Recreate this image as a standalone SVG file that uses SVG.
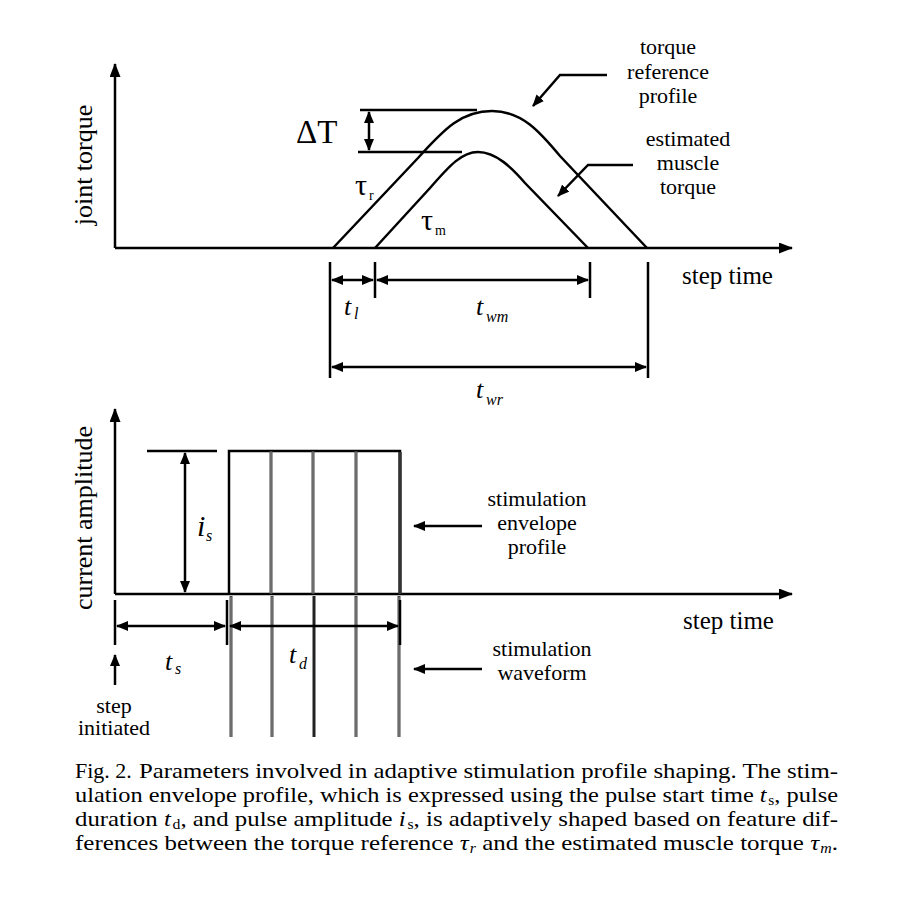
<svg xmlns="http://www.w3.org/2000/svg" width="910" height="904" viewBox="0 0 910 904">
<defs>
<marker id="ah" viewBox="0 0 12 10" refX="11" refY="5" markerWidth="12" markerHeight="10" markerUnits="userSpaceOnUse" orient="auto-start-reverse">
<path d="M0,0 L12,5 L0,10 z" fill="#000"/>
</marker>
<marker id="axh" viewBox="0 0 14 11" refX="13" refY="5.5" markerWidth="14" markerHeight="11" markerUnits="userSpaceOnUse" orient="auto">
<path d="M0,0 L14,5.5 L0,11 z" fill="#000"/>
</marker>
<style>
.ln{stroke:#000;stroke-width:2.5;fill:none}
.ar{stroke:#000;stroke-width:2.5;fill:none;marker-end:url(#ah)}
.dar{stroke:#000;stroke-width:2.5;fill:none;marker-end:url(#ah);marker-start:url(#ah)}
.ax{stroke:#000;stroke-width:2.5;fill:none;marker-end:url(#axh)}
.t{font-family:"Liberation Serif","Times New Roman",serif;fill:#000}
.lbl{font-size:22px;text-anchor:middle}
.st{font-size:25px}
.yl{font-size:26px;text-anchor:middle}
.it{font-style:italic}
.mt{font-size:26px;font-style:italic}
.sb{font-size:16px;font-style:italic}
.pulse{stroke:#444;stroke-width:3;fill:none}
.pin{stroke:#aaa;stroke-width:0.8;fill:none}
.cap{font-size:22px}
</style>
</defs>

<g id="top-chart">
<g id="top-axes">
<path class="ax" d="M115,248 V64"/>
<path class="ax" d="M115,248 H792"/>
<text class="t yl" transform="translate(92,165) rotate(-90)">joint torque</text>
<text class="t st" x="682" y="284">step time</text>
</g>
<g id="tau-r">
<path class="ln" d="M333,248 L418,158 C445,128 462,111 492,111 C522,111 540,132 560,156 L647,248"/>
<text class="t" font-size="30" x="355" y="195">τ</text><text class="t" font-size="14" x="369" y="200">r</text>
</g>
<g id="tau-m">
<path class="ln" d="M375,248 L430,188 C450,165 462,152 478,152 C496,152 512,168 525,183 L588,248"/>
<text class="t" font-size="30" x="421" y="230">τ</text><text class="t" font-size="14" x="435" y="235">m</text>
</g>
<g id="delta-t">
<path class="ln" d="M360,110 H477"/>
<path class="ln" d="M358,152 H462"/>
<text class="t" font-size="33" x="296" y="143">ΔT</text>
</g>
<g id="label-torque-ref">
<text class="t lbl" x="668" y="54">torque</text>
<text class="t lbl" x="668" y="79">reference</text>
<text class="t lbl" x="668" y="103">profile</text>
</g>
<g id="label-est-muscle">
<text class="t lbl" x="688" y="146">estimated</text>
<text class="t lbl" x="688" y="170">muscle</text>
<text class="t lbl" x="688" y="194">torque</text>
</g>
<g id="top-ticks">
<path class="ln" d="M330,262 V378 M375,262 V298 M590,262 V298 M648,262 V378"/>
<text class="t mt" x="344" y="315">t</text><text class="t sb" x="354" y="319">l</text>
<text class="t mt" x="476" y="315">t</text><text class="t sb" x="486" y="322">wm</text>
<text class="t mt" x="476" y="398">t</text><text class="t sb" x="486" y="405">wr</text>
</g>
</g>

<g id="bottom-chart">
<g id="bottom-axes">
<path class="ax" d="M115,594 V409"/>
<path class="ax" d="M115,594 H792"/>
<text class="t yl" transform="translate(92,518) rotate(-90)">current amplitude</text>
<text class="t st" x="683" y="629">step time</text>
</g>
<g id="envelope">
<path class="ln" d="M229,594 V451 H400 V594"/>
<path class="pulse" d="M271,451 V594 M313,451 V594 M356,451 V594"/>
<path class="pin" d="M271,452 V593 M313,452 V593 M356,452 V593"/>
<path stroke="#333" stroke-width="3.5" d="M400,452 V594"/>
</g>
<g id="waveform">
<path class="pulse" d="M231,596 V737 M272,596 V737 M356,596 V737 M399,596 V737"/>
<path class="pin" d="M231,597 V737 M272,597 V737 M356,597 V737 M399,597 V737"/>
<path stroke="#222" stroke-width="3" d="M314,596 V737"/>
</g>
<g id="amplitude">
<path class="ln" d="M147,451 H217"/>
<text class="t it" font-size="30" x="197" y="536">i</text><text class="t sb" x="206" y="541">s</text>
</g>
<g id="bottom-ticks">
<path class="ln" d="M115,600 V645 M227,600 V645 M400,600 V645"/>
<text class="t mt" x="165" y="670">t</text><text class="t sb" x="175" y="674">s</text>
<text class="t mt" x="289" y="663">t</text><text class="t sb" x="299" y="669">d</text>
</g>
<g id="step-initiated">
<text class="t lbl" x="114" y="713">step</text>
<text class="t lbl" x="114" y="735">initiated</text>
</g>
<g id="label-envelope">
<text class="t lbl" x="537" y="506">stimulation</text>
<text class="t lbl" x="537" y="530">envelope</text>
<text class="t lbl" x="537" y="554">profile</text>
</g>
<g id="label-waveform">
<text class="t lbl" x="542" y="656">stimulation</text>
<text class="t lbl" x="542" y="680">waveform</text>
</g>
</g>

<g id="connectors">
<path class="ar" d="M607,75 H560 L533,106"/>
<path class="ar" d="M633,165 H588 L558,196"/>
<path class="dar" d="M369,112 V150"/>
<path class="dar" d="M332,280 H373"/>
<path class="dar" d="M377,280 H588"/>
<path class="dar" d="M332,367 H646"/>
<path class="dar" d="M185,453 V592"/>
<path class="dar" d="M117,626 H225"/>
<path class="dar" d="M230,626 H398"/>
<path class="ar" d="M115,685 V655"/>
<path class="ar" d="M482,526 H414"/>
<path class="ar" d="M482,669 H414"/>
</g>

<g id="caption">
<text class="t cap" x="75" y="778">Fig. 2.</text>
<text class="t cap" x="139" y="778" textLength="699" lengthAdjust="spacingAndGlyphs">Parameters involved in adaptive stimulation profile shaping. The stim-</text>
<text class="t cap" x="75" y="802" textLength="763" lengthAdjust="spacingAndGlyphs">ulation envelope profile, which is expressed using the pulse start time <tspan font-style="italic">t</tspan><tspan font-size="14" dx="1.5" dy="3">s</tspan><tspan dy="-3">, pulse</tspan></text>
<text class="t cap" x="75" y="826" textLength="763" lengthAdjust="spacingAndGlyphs">duration <tspan font-style="italic">t</tspan><tspan font-size="14" dx="1.5" dy="3">d</tspan><tspan dy="-3">, and pulse amplitude </tspan><tspan font-style="italic">i</tspan><tspan font-size="14" dx="1.5" dy="3">s</tspan><tspan dy="-3">, is adaptively shaped based on feature dif-</tspan></text>
<text class="t cap" x="75" y="850" textLength="763" lengthAdjust="spacingAndGlyphs">ferences between the torque reference <tspan font-style="italic">τ</tspan><tspan font-size="14" font-style="italic" dx="1" dy="3">r</tspan><tspan dy="-3"> and the estimated muscle torque </tspan><tspan font-style="italic">τ</tspan><tspan font-size="14" font-style="italic" dx="1" dy="3">m</tspan><tspan dy="-3">.</tspan></text>
</g>
</svg>
